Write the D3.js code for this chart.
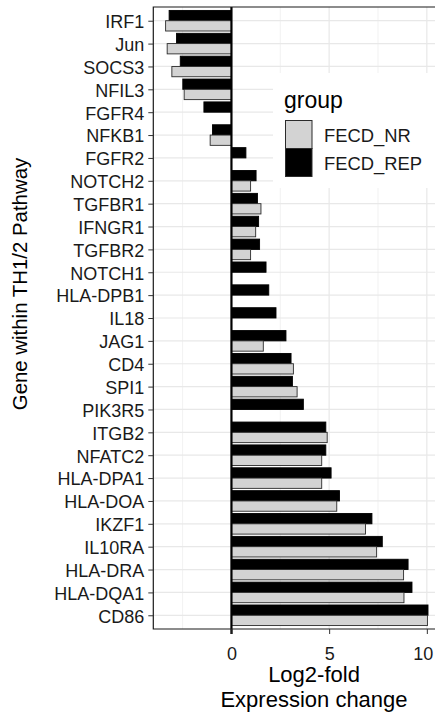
<!DOCTYPE html>
<html>
<head>
<meta charset="utf-8">
<script src="https://cdn.jsdelivr.net/npm/d3@7"></script>
<style>
  body { margin: 0; background: #fff; }
  text { font-family: "Liberation Sans", Arial, sans-serif; }
</style>
</head>
<body>
<div id="chart"></div>
<script>
// genes, top to bottom as drawn
const genes = ["IRF1", "Jun", "SOCS3", "NFIL3", "FGFR4", "NFKB1", "FGFR2", "NOTCH2",
  "TGFBR1", "IFNGR1", "TGFBR2", "NOTCH1", "HLA-DPB1", "IL18", "JAG1", "CD4", "SPI1",
  "PIK3R5", "ITGB2", "NFATC2", "HLA-DPA1", "HLA-DOA", "IKZF1", "IL10RA", "HLA-DRA",
  "HLA-DQA1", "CD86"];

const groups = ["FECD_REP", "FECD_NR"];

// log2-fold change per gene (null = not present)
const fecdRep = [-3.19, -2.81, -2.62, -2.49, -1.41, -0.97, 0.74, 1.26,
  1.33, 1.39, 1.44, 1.77, 1.91, 2.28, 2.79, 3.05, 3.12,
  3.68, 4.83, 4.83, 5.10, 5.53, 7.19, 7.72, 9.04,
  9.24, 10.06];
const fecdNr = [-3.37, -3.29, -3.05, -2.42, null, -1.09, null, 0.98,
  1.51, 1.24, 0.98, null, null, null, 1.63, 3.17, 3.36,
  null, 4.90, 4.62, 4.62, 5.39, 6.86, 7.43, 8.81,
  8.83, 10.03];

const xTicks = [0, 5, 10];
const xMinor = [-2.5, 2.5, 7.5];

const width = 435, height = 715;
const panel = { left: 153.3, right: 440.9, top: 7, bottom: 629 };

const svg = d3.select("#chart").append("svg")
  .attr("width", width)
  .attr("height", height);

const x = d3.scaleLinear().domain([-4.0, 10.72]).range([panel.left, panel.right]);
const y = d3.scalePoint().domain(genes).range([panel.top, panel.bottom]).padding(0.6);
const step = y.step();
const sub = d3.scaleBand().domain(groups).range([-0.45 * step, 0.45 * step]);
const fill = d3.scaleOrdinal().domain(groups).range(["#000000", "#d3d3d3"]);
const stroke = d3.scaleOrdinal().domain(groups).range(["#000000", "#2b2b2b"]);

// grid
const grid = svg.append("g");
grid.selectAll("line.minor").data(xMinor).join("line")
  .attr("x1", d => x(d)).attr("x2", d => x(d))
  .attr("y1", panel.top).attr("y2", panel.bottom)
  .attr("stroke", "#ededed").attr("stroke-width", 0.8);
grid.selectAll("line.major").data(xTicks).join("line")
  .attr("x1", d => x(d)).attr("x2", d => x(d))
  .attr("y1", panel.top).attr("y2", panel.bottom)
  .attr("stroke", "#e8e8e8").attr("stroke-width", 1.2);
grid.selectAll("line.hz").data(genes).join("line")
  .attr("x1", panel.left).attr("x2", panel.right)
  .attr("y1", d => y(d)).attr("y2", d => y(d))
  .attr("stroke", "#e8e8e8").attr("stroke-width", 1.2);

// bars
const rows = [];
genes.forEach((g, i) => {
  if (fecdRep[i] != null) rows.push({ gene: g, group: "FECD_REP", value: fecdRep[i] });
  if (fecdNr[i] != null) rows.push({ gene: g, group: "FECD_NR", value: fecdNr[i] });
});

svg.append("g").selectAll("rect").data(rows).join("rect")
  .attr("x", d => x(Math.min(0, d.value)))
  .attr("width", d => Math.abs(x(d.value) - x(0)))
  .attr("y", d => y(d.gene) + sub(d.group))
  .attr("height", sub.bandwidth())
  .attr("fill", d => fill(d.group))
  .attr("stroke", d => stroke(d.group))
  .attr("stroke-width", 0.9);

// zero line
svg.append("line")
  .attr("x1", x(0)).attr("x2", x(0))
  .attr("y1", panel.top).attr("y2", panel.bottom + 5)
  .attr("stroke", "#000").attr("stroke-width", 2.2);

// legend (inside panel, white background)
const lg = svg.append("g");
lg.append("rect")
  .attr("x", 273).attr("y", 73).attr("width", 170).attr("height", 115)
  .attr("fill", "#fff");
lg.append("text")
  .attr("x", 284).attr("y", 108)
  .attr("font-size", 23).attr("fill", "#000")
  .text("group");
const legendOrder = ["FECD_NR", "FECD_REP"];
legendOrder.forEach((g, i) => {
  lg.append("rect")
    .attr("x", 285.5).attr("y", 120.5 + i * 28)
    .attr("width", 26.5).attr("height", 28)
    .attr("fill", fill(g)).attr("stroke", "#2b2b2b").attr("stroke-width", 1);
  lg.append("text")
    .attr("x", 324).attr("y", 142 + i * 28)
    .attr("font-size", 18.4).attr("fill", "#1a1a1a")
    .text(g);
});

// panel border (left, top, bottom)
svg.append("path")
  .attr("d", `M${panel.right},${panel.top}H${panel.left}V${panel.bottom}H${panel.right}`)
  .attr("fill", "none").attr("stroke", "#1a1a1a").attr("stroke-width", 1.2);

// axes
const yAxis = svg.append("g")
  .attr("transform", `translate(${panel.left},0)`)
  .call(d3.axisLeft(y).tickSize(5).tickPadding(4));
yAxis.select(".domain").remove();
yAxis.selectAll(".tick line").attr("stroke", "#333");
yAxis.selectAll("text")
  .attr("font-size", 18).attr("fill", "#1a1a1a")
  .attr("font-family", "Liberation Sans, Arial, sans-serif")
  .attr("dy", "0.38em");

const xAxis = svg.append("g")
  .attr("transform", `translate(0,${panel.bottom})`)
  .call(d3.axisBottom(x).tickValues(xTicks).tickSize(5).tickPadding(13));
xAxis.select(".domain").remove();
xAxis.selectAll(".tick line").attr("stroke", "#333");
xAxis.selectAll("text")
  .attr("font-size", 18).attr("fill", "#1a1a1a")
  .attr("font-family", "Liberation Sans, Arial, sans-serif")
  .attr("dx", d => d === 10 ? -4 : 0);

// axis titles
svg.append("text")
  .attr("x", 314).attr("y", 682)
  .attr("text-anchor", "middle").attr("font-size", 22).attr("fill", "#000")
  .text("Log2-fold");
svg.append("text")
  .attr("x", 314).attr("y", 707)
  .attr("text-anchor", "middle").attr("font-size", 22).attr("fill", "#000")
  .text("Expression change");
svg.append("text")
  .attr("transform", "translate(26.5,284) rotate(-90)")
  .attr("text-anchor", "middle").attr("font-size", 20.4).attr("fill", "#000")
  .text("Gene within TH1/2 Pathway");
</script>
</body>
</html>
